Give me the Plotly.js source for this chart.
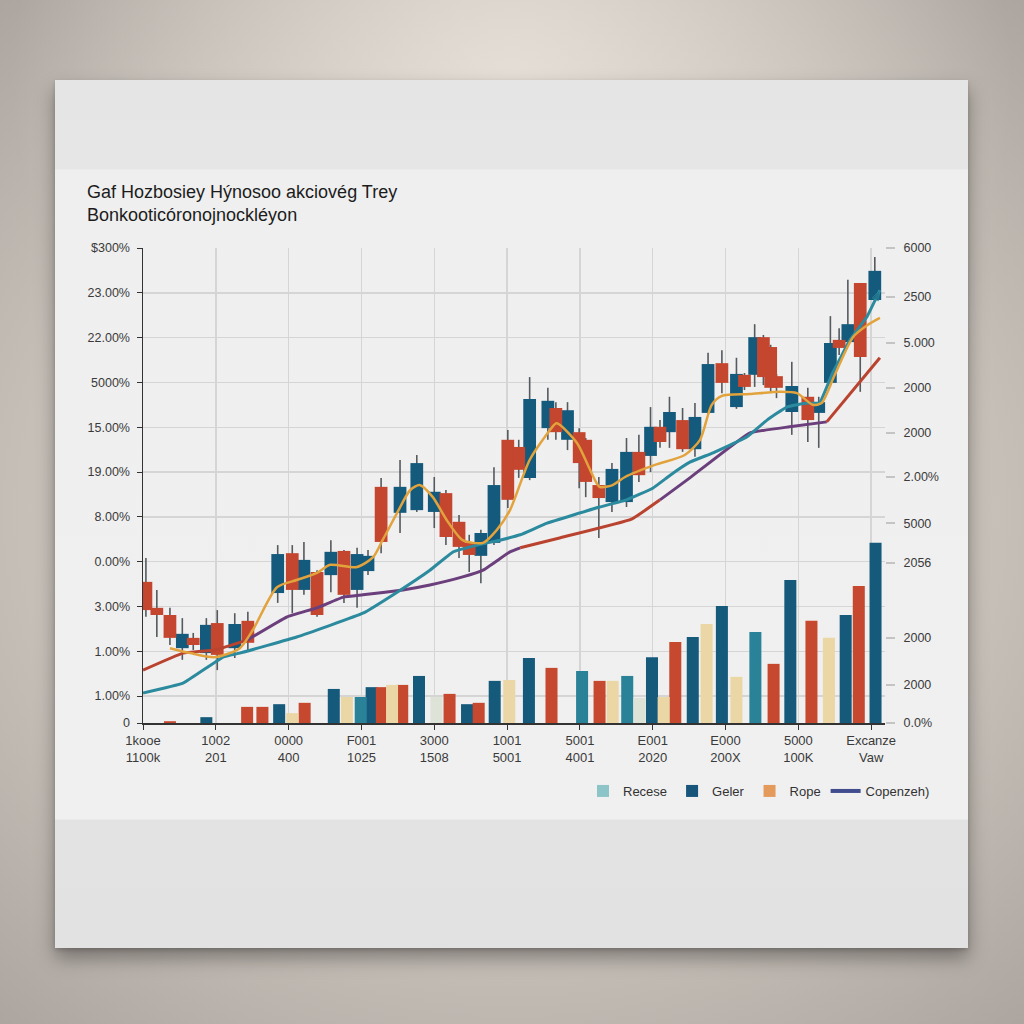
<!DOCTYPE html>
<html>
<head>
<meta charset="utf-8">
<script src="https://cdn.plot.ly/plotly-3.0.1.min.js"></script>
<style>
  html, body { margin:0; padding:0; width:1024px; height:1024px; overflow:hidden; }
  body {
    background:
      radial-gradient(ellipse 70% 60% at 50% 8%, rgba(232,226,218,0.9) 0%, rgba(232,226,218,0) 70%),
      radial-gradient(ellipse 80% 70% at 50% 50%, #d9d4ce 0%, #c6bfb8 60%, #a9a29c 100%);
  }
  #card {
    position:absolute; left:55px; top:80px; width:913px; height:868px;
    background: linear-gradient(to bottom, #e5e5e5 0px, #e6e6e6 89px, #efefef 90px, #f0f0f0 739px, #e3e3e3 740px, #e2e2e2 100%);
    box-shadow: 0 10px 18px rgba(0,0,0,0.35), 0 2px 4px rgba(0,0,0,0.15);
  }
  #chart { position:absolute; left:0; top:0; width:1024px; height:1024px; }
</style>
</head>
<body>
<div id="card"></div>
<div id="chart"></div>
<script>
// ---------- DATA ----------
const chartTitle = "Gaf Hozbosiey Hýnosoo akciovég Trey<br>Bonkooticóronojnockléyon";

const xTickVals = [0, 10, 20, 30, 40, 50, 60, 70, 80, 90, 100];
const xTickLabels = ["1kooe<br>1100k", "1002<br>201", "0000<br>400", "F001<br>1025", "3000<br>1508",
                     "1001<br>5001", "5001<br>4001", "E001<br>2020", "E000<br>200X", "5000<br>100K", "Excanze<br>Vaw"];

const yTickVals = [0, 6, 16, 26, 36, 46, 56, 66, 76, 86, 96, 106];
const yTickLabels = ["0", "1.00%", "1.00%", "3.00%", "0.00%", "8.00%", "19.00%", "15.00%", "5000%", "22.00%", "23.00%", "$300%"];

const y2TickVals = [0, 8.5, 19.0, 35.7, 44.6, 54.9, 64.7, 74.8, 84.8, 95.1, 106];
const y2TickLabels = ["0.0%", "2000", "2000", "2056", "5000", "2.00%", "2000", "2000", "5.000", "2500", "6000"];

// candles
const candleX = [0.4,1.9,3.7,5.4,6.9,8.7,10.2,12.6,14.4,18.5,20.5,22.1,23.9,25.8,27.6,29.4,30.9,32.7,35.3,37.6,40.0,41.6,43.4,44.8,46.4,48.2,50.1,51.6,53.1,55.6,56.7,58.3,59.9,60.8,62.6,64.4,66.4,68.1,69.7,71.0,72.3,74.1,75.8,77.6,79.5,81.5,82.6,84.0,85.2,86.2,87.0,89.1,91.3,92.8,94.4,95.6,96.8,98.5,100.5];
const candleOpen = [31.5,25.7,24.1,16.7,19.0,15.6,22.3,16.7,22.8,29.0,37.9,29.7,33.7,33.0,38.4,29.7,33.9,52.7,46.9,47.5,47.1,51.3,44.9,40.2,37.3,40.2,63.2,61.6,54.7,65.8,70.3,63.2,64.9,63.2,53.1,49.3,49.3,60.5,59.6,66.1,64.9,67.6,61.1,69.2,80.3,70.5,77.7,77.7,86.1,83.9,77.4,69.4,72.8,69.2,75.9,85.5,85.0,98.2,94.4];
const candleClose = [25.2,24.1,19.0,19.9,17.4,21.9,15.2,22.1,17.9,37.7,29.7,36.4,24.1,38.2,28.6,37.7,37.3,40.4,52.7,58.0,51.6,41.5,39.3,37.5,42.4,53.1,49.8,56.5,72.3,71.9,64.9,69.8,58.0,53.8,50.2,56.7,60.5,55.3,66.1,62.7,69.4,61.1,68.3,80.1,75.9,77.9,75.0,86.1,77.2,74.8,74.8,75.2,67.6,71.6,84.8,83.7,89.0,81.7,100.9];
const candleHigh = [36.8,29.7,25.7,23.4,20.1,23.4,25.2,24.5,24.8,39.7,39.7,40.4,34.1,40.8,38.6,39.1,38.6,54.7,58.7,59.8,54.9,52.0,46.4,42.0,43.1,57.1,65.4,63.2,77.2,74.8,71.6,71.6,65.8,63.6,54.9,58.0,63.6,64.3,70.5,67.6,72.8,70.3,71.4,82.6,83.2,81.5,78.1,89.0,86.6,84.4,77.9,80.6,74.8,72.8,90.8,88.1,98.9,98.2,104.0];
const candleLow = [23.7,19.2,17.4,14.1,16.3,14.1,11.8,14.5,16.3,26.8,24.5,28.6,23.7,29.2,26.8,25.7,33.0,37.9,42.4,47.1,43.5,39.7,36.8,33.7,31.2,39.7,48.0,54.7,54.2,63.2,63.2,60.9,52.4,50.4,41.3,47.1,48.2,53.8,56.0,61.4,61.4,60.5,59.4,68.7,73.6,70.1,74.3,75.0,75.4,73.9,72.5,64.3,62.7,61.4,75.4,82.1,84.6,73.9,94.0];

// volume bars
const volX = [3.7,8.7,14.3,16.4,18.7,20.5,22.2,26.2,28.0,29.9,31.4,32.8,34.2,35.6,37.9,40.3,42.1,44.5,46.1,48.3,50.3,53.0,56.1,60.3,62.7,64.5,66.5,68.2,69.9,71.5,73.1,75.5,77.4,79.5,81.5,84.1,86.6,88.9,91.8,94.2,96.5,98.3,100.6];
const volH = [0.4,1.3,3.6,3.6,4.2,2.2,4.5,7.6,5.8,5.8,8.0,8.0,8.5,8.5,10.5,5.8,6.5,4.2,4.5,9.4,9.6,14.5,12.3,11.6,9.4,9.4,10.5,5.6,14.7,5.8,18.1,19.2,22.1,26.1,10.3,20.3,13.2,31.9,22.8,19.0,24.1,30.6,40.2];
const volSeries = ["R","B","R","R","B","Y","R","B","Y","T","B","R","Y","R","B","P","R","B","R","B","Y","B","R","T","R","Y","T","P","B","Y","R","B","Y","B","Y","T","R","B","R","Y","B","R","B"];

// trend lines
const tealX = [0,5.5,11.0,13.3,21.1,30.2,34.9,39.4,42.6,45.9,49.0,51.8,55.5,62.7,66.4,70.0,72.4,75.1,78.3,82.9,85.7,88.4,91.2,92.9,94.7,97.1,99.4,101.2];
const tealY = [6.7,8.9,14.7,15.6,19.2,24.5,29.2,34.1,38.2,39.7,40.8,42.0,44.6,48.2,49.8,52.4,55.3,58.2,60.3,63.8,67.6,70.5,71.4,71.4,78.1,85.5,90.6,96.6];

const trendX = [0,5.5,9.9,14.3,19.8,23.9,27.5,30.2,35.7,39.4,43.9,46.7,50.4,51.8,57.2,67.1,71.0,75.1,83.3,88.8,93.9,101.2];
const trendY = [11.8,15.6,16.3,18.5,23.7,25.7,28.1,28.6,29.7,30.8,32.6,34.1,38.2,39.1,41.3,45.5,49.8,54.7,64.7,66.1,67.2,81.5];
const trendBreaks = [3, 13, 16, 20]; // index where the line changes tone

const orangeX = [3.7,6.5,9.9,13.3,15.1,18.4,21.1,23.9,25.7,29.4,31.6,32.9,34.9,36.7,38.0,39.8,41.7,43.9,46.7,48.6,50.4,53.1,55.9,56.8,59.6,61.4,62.7,64.5,66.2,70.3,74.4,76.5,78.1,79.5,83.3,87.5,89.8,92.0,93.2,95.0,97.5,99.5,101.2];
const orangeY = [16.7,15.6,14.7,16.7,20.8,30.3,31.9,33.5,35.3,34.8,37.0,40.8,46.9,52.0,53.1,50.4,45.3,40.8,40.2,43.1,47.5,58.7,65.4,66.9,62.5,56.5,52.7,53.1,54.9,57.6,59.8,63.2,71.0,73.0,73.4,73.9,73.6,71.0,71.4,77.7,86.1,88.8,90.4];

const legendNames = ["Recese", "Geler", "Rope", "Copenzeh)"];

// ---------- STYLE ----------
const FONT = "Liberation Sans, Arial, sans-serif";
const UP = "#145a7c", DOWN = "#c4462e";
const volColors = { B: "#15597b", T: "#2a8298", R: "#c6482f", Y: "#ead7a5", P: "#dde3d6" };
const legendColors = ["#8cc4c8", "#17567a", "#e49a5a", "#404c8e"];

const traces = [];

// volume bars (right axis)
Object.keys(volColors).forEach(k => {
  const xs = [], hs = [];
  volSeries.forEach((s, i) => { if (s === k) { xs.push(volX[i]); hs.push(volH[i]); } });
  traces.push({ type: "bar", x: xs, y: hs, yaxis: "y2", width: 1.65,
    marker: { color: volColors[k], line: { width: 0 } }, showlegend: false, hoverinfo: "skip" });
});

// wicks
traces.push({ type: "bar", x: candleX, base: candleLow, y: candleHigh.map((h, i) => h - candleLow[i]),
  width: 0.22, marker: { color: "#555a5e", line: { width: 0 } }, showlegend: false, hoverinfo: "skip" });

// bodies
["up", "down"].forEach(dir => {
  const xs = [], bs = [], hs = [];
  candleX.forEach((x, i) => {
    const isUp = candleClose[i] >= candleOpen[i];
    if ((dir === "up") === isUp) {
      xs.push(x);
      bs.push(Math.min(candleOpen[i], candleClose[i]));
      hs.push(Math.max(0.5, Math.abs(candleClose[i] - candleOpen[i])));
    }
  });
  traces.push({ type: "bar", x: xs, base: bs, y: hs, width: 1.75,
    marker: { color: dir === "up" ? UP : DOWN, line: { width: 0 } }, showlegend: false, hoverinfo: "skip" });
});

// red/purple trend line split into tone segments
const bounds = [0].concat(trendBreaks, [trendX.length - 1]);
for (let s = 0; s < bounds.length - 1; s++) {
  traces.push({ type: "scatter", mode: "lines",
    x: trendX.slice(bounds[s], bounds[s + 1] + 1), y: trendY.slice(bounds[s], bounds[s + 1] + 1),
    line: { color: s % 2 === 0 ? "#b9432f" : "#6b3e7c", width: 3, shape: "spline", smoothing: 0.3 },
    showlegend: false, hoverinfo: "skip" });
}

// teal line with arrow tip
traces.push({ type: "scatter", mode: "lines+markers", x: tealX, y: tealY,
  line: { color: "#2b8a9e", width: 3, shape: "spline", smoothing: 0.3 },
  marker: { symbol: "arrow", angleref: "previous", color: "#1f6f8a",
            size: tealX.map((_, i) => i === tealX.length - 1 ? 11 : 0) },
  showlegend: false, hoverinfo: "skip" });

// orange line
traces.push({ type: "scatter", mode: "lines", x: orangeX, y: orangeY,
  line: { color: "#e2a33d", width: 2.5, shape: "spline", smoothing: 0.7 },
  showlegend: false, hoverinfo: "skip" });

// legend entries
legendNames.forEach((n, i) => {
  if (i < 3) {
    traces.push({ type: "bar", x: [null], y: [null], name: n, marker: { color: legendColors[i] }, hoverinfo: "skip" });
  } else {
    traces.push({ type: "scatter", mode: "lines", x: [null], y: [null], name: n,
      line: { color: legendColors[i], width: 4 }, hoverinfo: "skip" });
  }
});

const layout = {
  width: 1024, height: 1024,
  paper_bgcolor: "rgba(0,0,0,0)", plot_bgcolor: "rgba(0,0,0,0)",
  margin: { l: 143, r: 139, t: 248, b: 301 },
  font: { family: FONT, size: 13, color: "#3a3a3a" },
  barmode: "overlay",
  title: { text: chartTitle, x: 87 / 1024, xref: "container", xanchor: "left",
           y: 1 - 198 / 1024, yref: "container", yanchor: "top",
           font: { family: FONT, size: 18, color: "#1c1c1c" } },
  xaxis: { range: [0, 101.9], tickvals: xTickVals, ticktext: xTickLabels,
           showgrid: true, gridcolor: "#d5d5d5", gridwidth: 1.5,
           showline: true, linecolor: "#333", linewidth: 1.5,
           ticks: "outside", ticklen: 5, tickcolor: "#333", zeroline: false,
           tickfont: { size: 13, color: "#3a3a3a" } },
  yaxis: { range: [0, 106], tickvals: yTickVals, ticktext: yTickLabels,
           showgrid: true, gridcolor: "#d5d5d5", gridwidth: 1.5,
           showline: true, linecolor: "#333", linewidth: 1.5,
           ticks: "outside", ticklen: 5, tickcolor: "#333", zeroline: false,
           ticklabelstandoff: 4, tickfont: { size: 12.5, color: "#3a3a3a" } },
  yaxis2: { range: [0, 106], overlaying: "y", side: "right", tickvals: y2TickVals, ticktext: y2TickLabels,
            showgrid: false, showline: false, zeroline: false,
            ticks: "outside", ticklen: 9, tickcolor: "#c4c4c4", tickwidth: 1.5,
            ticklabelstandoff: 6, tickfont: { size: 12.5, color: "#3a3a3a" } },
  showlegend: true,
  legend: { orientation: "h", xref: "container", yref: "container",
            x: 935 / 1024, xanchor: "right", y: 1 - 791 / 1024, yanchor: "middle",
            itemwidth: 30, bgcolor: "rgba(0,0,0,0)", font: { size: 13, color: "#333" }, traceorder: "normal" }
};

Plotly.newPlot("chart", traces, layout, { staticPlot: true, displayModeBar: false });
</script>
</body>
</html>
